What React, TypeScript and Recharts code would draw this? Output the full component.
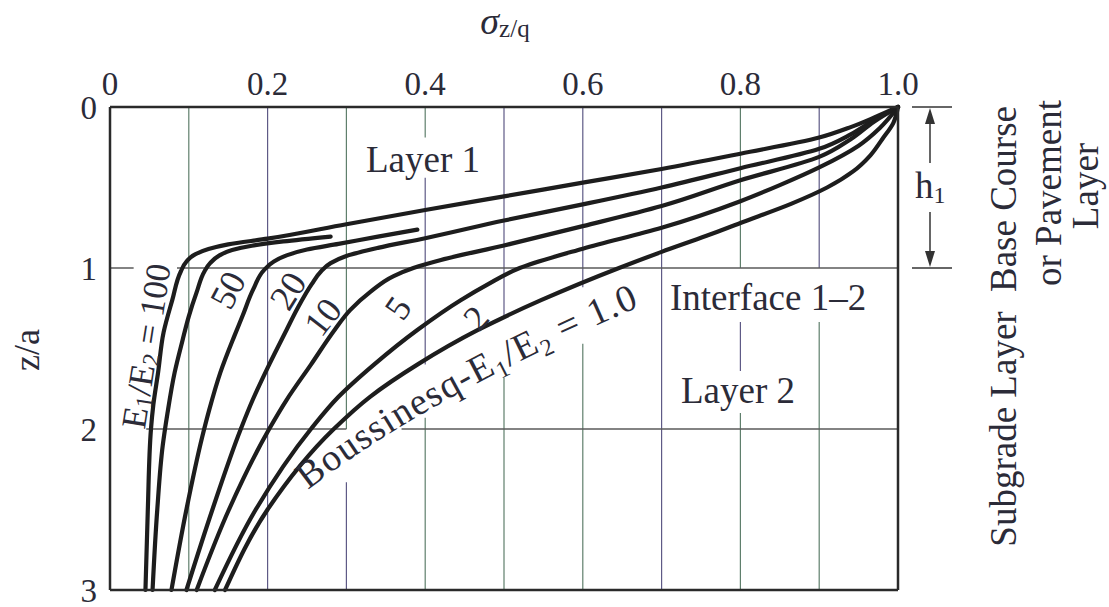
import React from 'react';
import { LineChart, Line, XAxis, YAxis, ReferenceLine } from 'recharts';

// σz/q (x) against z/a (y), two-layer system, one curve per E1/E2 ratio
const C100 = [
  { v: 1.0, z: 0 }, { v: 0.97, z: 0.065 }, { v: 0.94, z: 0.125 }, { v: 0.9, z: 0.19 },
  { v: 0.8, z: 0.29 }, { v: 0.7, z: 0.385 }, { v: 0.6, z: 0.47 }, { v: 0.5, z: 0.555 },
  { v: 0.4, z: 0.64 }, { v: 0.3, z: 0.728 }, { v: 0.2, z: 0.818 }, { v: 0.15, z: 0.853 },
  { v: 0.125, z: 0.882 }, { v: 0.108, z: 0.915 }, { v: 0.097, z: 0.96 }, { v: 0.09, z: 1.02 },
  { v: 0.079, z: 1.2 }, { v: 0.068, z: 1.4 }, { v: 0.061, z: 1.65 }, { v: 0.055, z: 1.85 },
  { v: 0.052, z: 2.0 }, { v: 0.048, z: 2.5 }, { v: 0.045, z: 3.0 },
];

const C50 = [
  { v: 0.28, z: 0.805 }, { v: 0.22, z: 0.835 }, { v: 0.18, z: 0.862 }, { v: 0.155, z: 0.888 },
  { v: 0.138, z: 0.925 }, { v: 0.127, z: 0.97 }, { v: 0.12, z: 1.02 }, { v: 0.11, z: 1.15 },
  { v: 0.1, z: 1.3 }, { v: 0.092, z: 1.45 }, { v: 0.082, z: 1.65 }, { v: 0.073, z: 1.9 },
  { v: 0.067, z: 2.1 }, { v: 0.06, z: 2.5 }, { v: 0.054, z: 3.0 },
];

const C20 = [
  { v: 0.39, z: 0.762 }, { v: 0.34, z: 0.805 }, { v: 0.29, z: 0.85 }, { v: 0.25, z: 0.885 },
  { v: 0.225, z: 0.92 }, { v: 0.208, z: 0.96 }, { v: 0.196, z: 1.01 }, { v: 0.182, z: 1.13 },
  { v: 0.168, z: 1.3 }, { v: 0.158, z: 1.42 }, { v: 0.14, z: 1.65 }, { v: 0.126, z: 1.88 },
  { v: 0.117, z: 2.05 }, { v: 0.097, z: 2.5 }, { v: 0.078, z: 3.0 },
];

const C10 = [
  { v: 1.0, z: 0 }, { v: 0.97, z: 0.08 }, { v: 0.94, z: 0.17 }, { v: 0.9, z: 0.26 },
  { v: 0.8, z: 0.38 }, { v: 0.7, z: 0.5 }, { v: 0.6, z: 0.605 }, { v: 0.5, z: 0.705 },
  { v: 0.4, z: 0.815 }, { v: 0.34, z: 0.875 }, { v: 0.3, z: 0.925 }, { v: 0.28, z: 0.97 },
  { v: 0.268, z: 1.02 }, { v: 0.256, z: 1.1 }, { v: 0.238, z: 1.25 }, { v: 0.224, z: 1.385 },
  { v: 0.202, z: 1.6 }, { v: 0.181, z: 1.82 }, { v: 0.166, z: 2.0 }, { v: 0.13, z: 2.5 },
  { v: 0.097, z: 3.0 },
];

const C5 = [
  { v: 1.0, z: 0 }, { v: 0.97, z: 0.09 }, { v: 0.94, z: 0.2 }, { v: 0.9, z: 0.31 },
  { v: 0.8, z: 0.455 }, { v: 0.7, z: 0.615 }, { v: 0.6, z: 0.74 }, { v: 0.5, z: 0.86 },
  { v: 0.42, z: 0.95 }, { v: 0.385, z: 1.0 }, { v: 0.36, z: 1.05 }, { v: 0.33, z: 1.15 },
  { v: 0.305, z: 1.26 }, { v: 0.285, z: 1.385 }, { v: 0.255, z: 1.6 }, { v: 0.224, z: 1.82 },
  { v: 0.202, z: 2.0 }, { v: 0.151, z: 2.5 }, { v: 0.11, z: 3.0 },
];

const C2 = [
  { v: 1.0, z: 0 }, { v: 0.977, z: 0.13 }, { v: 0.95, z: 0.24 }, { v: 0.9, z: 0.375 },
  { v: 0.85, z: 0.485 }, { v: 0.8, z: 0.585 }, { v: 0.7, z: 0.75 }, { v: 0.6, z: 0.88 },
  { v: 0.52, z: 1.0 }, { v: 0.48, z: 1.1 }, { v: 0.445, z: 1.2 }, { v: 0.39, z: 1.385 },
  { v: 0.335, z: 1.6 }, { v: 0.29, z: 1.8 }, { v: 0.255, z: 2.0 }, { v: 0.185, z: 2.5 },
  { v: 0.133, z: 3.0 },
];

const BOUS = [
  { v: 1.0, z: 0 }, { v: 0.994, z: 0.1 }, { v: 0.98, z: 0.2 }, { v: 0.965, z: 0.3 },
  { v: 0.943, z: 0.4 }, { v: 0.91, z: 0.5 }, { v: 0.865, z: 0.6 }, { v: 0.8, z: 0.72 },
  { v: 0.757, z: 0.8 }, { v: 0.7, z: 0.9 }, { v: 0.646, z: 1.0 }, { v: 0.547, z: 1.2 },
  { v: 0.467, z: 1.385 }, { v: 0.39, z: 1.6 }, { v: 0.33, z: 1.8 }, { v: 0.284, z: 2.0 },
  { v: 0.2, z: 2.5 }, { v: 0.146, z: 3.0 },
];

const CURVES = [C100, C50, C20, C10, C5, C2, BOUS];

const X_TICKS = [0, 0.2, 0.4, 0.6, 0.8, 1.0];
const Z_TICKS = [0, 1, 2, 3];

// vertical grid pieces [x, zFrom, zTo] - broken where the labels sit
const GRID_X: [number, number, number][] = [
  [0.1, 0, 3], [0.2, 0, 3], [0.3, 0, 2.0], [0.3, 2.33, 3],
  [0.4, 0, 0.19], [0.4, 0.44, 1.6], [0.4, 1.93, 3],
  [0.5, 0, 1.3], [0.5, 1.68, 3], [0.6, 0, 1.12], [0.6, 1.47, 3], [0.7, 0, 3],
  [0.8, 0, 1.0], [0.8, 1.336, 1.64], [0.8, 1.9, 3], [0.9, 0, 1.0], [0.9, 1.336, 3],
];
// horizontal grid pieces [z, vFrom, vTo]
const GRID_Z: [number, number, number][] = [
  [1, 0, 0.03], [1, 0.085, 1], [2, 0.046, 0.3], [2, 0.37, 1],
];

const W = 1109;
const H = 607;
const X0 = 110;
const X1 = 898;
const Y0 = 107;
const Y1 = 590;
const py = (z: number) => Y0 + ((Y1 - Y0) * z) / 3;

const SERIF = "'Liberation Serif', 'Times New Roman', serif";
const INK = '#2b2b38';
const CURVE = '#1d1d1d';

const XTick = (p: any) => (
  <text x={p.x} y={95} textAnchor="middle" fontSize={33} fontFamily={SERIF} fill={INK}>
    {p.payload.value === 0 ? '0' : p.payload.value.toFixed(1)}
  </text>
);

const YTick = (p: any) => (
  <text x={X0 - 13} y={p.y + 1} textAnchor="end" dominantBaseline="central" fontSize={33} fontFamily={SERIF} fill={INK}>
    {p.payload.value}
  </text>
);

const Rot = ({ x, y, a, size = 36, children }: any) => (
  <text transform={`translate(${x},${y}) rotate(${a})`} textAnchor="middle" dominantBaseline="central" fontSize={size}>
    {children}
  </text>
);

// "E1/E2 = <tail>" with lowered subscripts; each shift is undone on the next run of text
const Ratio = ({ tail }: { tail: string }) => (
  <>
    <tspan>E</tspan>
    <tspan dy={7} fontSize={24}>1</tspan>
    <tspan dy={-7}>/E</tspan>
    <tspan dy={7} fontSize={24}>2</tspan>
    <tspan dy={-7}>{tail}</tspan>
  </>
);

const Overlay = () => (
  <svg width={W} height={H} style={{ position: 'absolute', left: 0, top: 0, pointerEvents: 'none' }} fontFamily={SERIF} fill={INK}>
    {/* axis titles */}
    <text x={505} y={34} textAnchor="middle">
      <tspan fontStyle="italic" fontSize={38}>σ</tspan>
      <tspan fontSize={25} dy={3}>z/q</tspan>
    </text>
    <Rot x={27} y={350} a={-90}>z/a</Rot>

    {/* layer names on the right */}
    <Rot x={1003} y={199} a={-90} size={37}>Base Course</Rot>
    <Rot x={1048} y={193} a={-90} size={37}>or Pavement</Rot>
    <Rot x={1085} y={186} a={-90} size={37}>Layer</Rot>
    <Rot x={1003} y={429} a={-90} size={37}>Subgrade Layer</Rot>

    {/* h1 bracket */}
    <g stroke="#333" strokeWidth={1.5}>
      <line x1={X1 + 14} y1={py(0)} x2={X1 + 54} y2={py(0)} />
      <line x1={X1 + 14} y1={py(1)} x2={X1 + 54} y2={py(1)} />
      <line x1={930} y1={py(0) + 10} x2={930} y2={py(0) + 56} />
      <line x1={930} y1={py(1) - 56} x2={930} y2={py(1) - 10} />
    </g>
    <polygon points={`930,${py(0) + 1} 925,${py(0) + 17} 935,${py(0) + 17}`} fill="#333" />
    <polygon points={`930,${py(1) - 1} 925,${py(1) - 17} 935,${py(1) - 17}`} fill="#333" />
    <text x={915} y={198} fontSize={37}>
      h<tspan fontSize={24} dy={5}>1</tspan>
    </text>

    {/* region labels */}
    <text x={423} y={172} textAnchor="middle" fontSize={37}>Layer 1</text>
    <text x={670} y={310} fontSize={37}>Interface 1–2</text>
    <text x={681} y={403} fontSize={37}>Layer 2</text>

    {/* curve labels */}
    <Rot x={146} y={346} a={-81} size={35}>
      <Ratio tail=" = 100" />
    </Rot>
    <Rot x={228} y={290} a={-62}>50</Rot>
    <Rot x={288} y={291} a={-58}>20</Rot>
    <Rot x={323} y={317} a={-52}>10</Rot>
    <Rot x={398} y={308} a={-55}>5</Rot>
    <Rot x={476} y={318} a={-48}>2</Rot>
    <path id="bousPath" d="M 308 490 Q 430 395 655 300" fill="none" />
    <text fontSize={38} letterSpacing={1.2}>
      <textPath href="#bousPath">
        Boussinesq-<Ratio tail=" = 1.0" />
      </textPath>
    </text>
  </svg>
);

export default function App() {
  return (
    <div style={{ position: 'absolute', left: 0, top: 0, width: W, height: H, background: '#fff' }}>
      <LineChart width={W} height={H} margin={{ top: 77, right: W - X1, bottom: H - Y1, left: 70 }}>
        <XAxis
          type="number"
          dataKey="v"
          domain={[0, 1]}
          ticks={X_TICKS}
          interval={0}
          orientation="top"
          height={30}
          axisLine={false}
          tickLine={false}
          tick={(p: any) => <XTick {...p} />}
        />
        <YAxis
          type="number"
          dataKey="z"
          domain={[0, 3]}
          ticks={Z_TICKS}
          interval={0}
          reversed
          width={40}
          axisLine={false}
          tickLine={false}
          tick={(p: any) => <YTick {...p} />}
        />
        {GRID_X.map(([x, a, b], i) => (
          <ReferenceLine key={`gx${i}`} segment={[{ x, y: a }, { x, y: b }]} stroke={i % 2 ? '#5e5a86' : '#5f7f6c'} strokeWidth={1.2} />
        ))}
        {GRID_Z.map(([z, a, b], i) => (
          <ReferenceLine key={`gz${i}`} segment={[{ x: a, y: z }, { x: b, y: z }]} stroke="#5a5a5a" strokeWidth={1.5} />
        ))}
        {CURVES.map((d, i) => (
          <Line
            key={`c${i}`}
            data={d}
            dataKey="z"
            type="monotoneY"
            stroke={CURVE}
            strokeWidth={4.2}
            strokeLinecap="round"
            dot={false}
            activeDot={false}
            isAnimationActive={false}
          />
        ))}
        <ReferenceLine x={0} stroke="#2a2a2a" strokeWidth={2.5} />
        <ReferenceLine x={1} stroke="#2a2a2a" strokeWidth={2.5} />
        <ReferenceLine y={0} stroke="#2a2a2a" strokeWidth={2.5} />
        <ReferenceLine y={3} stroke="#2a2a2a" strokeWidth={2.5} />
      </LineChart>
      <Overlay />
    </div>
  );
}
